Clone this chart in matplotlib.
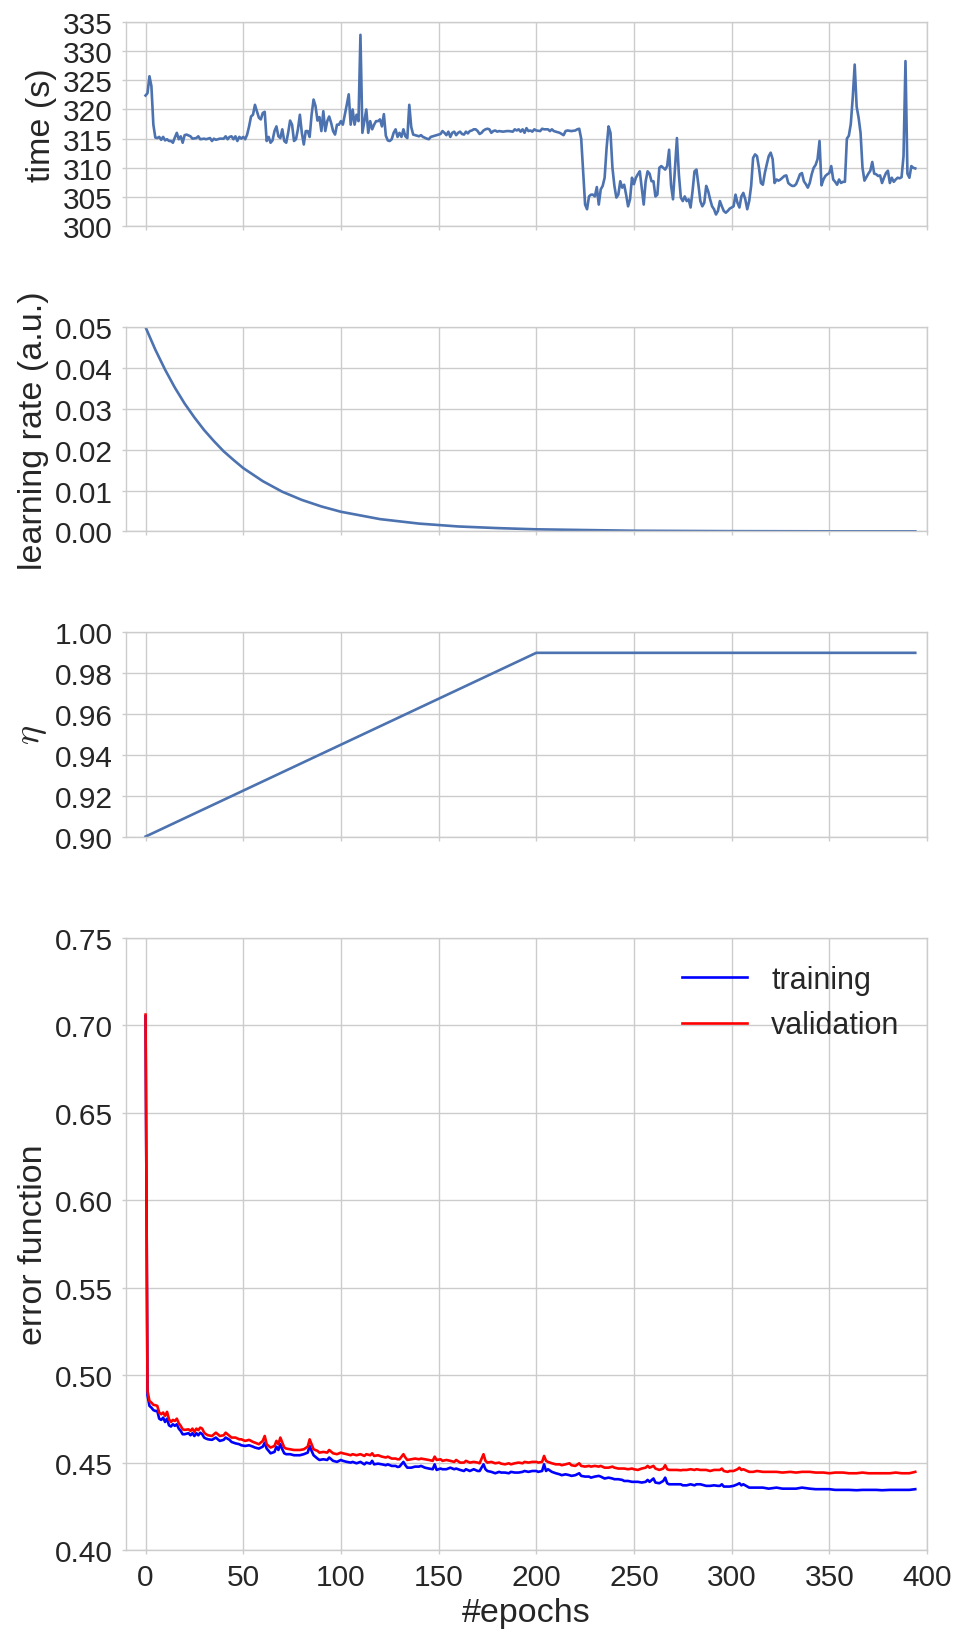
import matplotlib
matplotlib.use("Agg")
import matplotlib.pyplot as plt
from matplotlib.ticker import MultipleLocator, FormatStrFormatter

# ---------------- data ----------------
time_epoch = [
    0, 1, 2, 3, 4, 5, 6, 7, 8, 9,
    10, 11, 12, 13, 14, 15, 16, 17, 18, 19,
    20, 21, 23, 24, 26, 27, 28, 30, 31, 33,
    34, 35, 36, 38, 40, 41, 42, 43, 44, 45,
    46, 47, 48, 49, 50, 51, 52, 53, 54, 55,
    56, 57, 58, 59, 60, 61, 62, 63, 64, 65,
    66, 67, 68, 69, 70, 71, 72, 73, 74, 75,
    76, 77, 78, 79, 80, 81, 82, 83, 84, 85,
    86, 87, 88, 89, 90, 91, 92, 93, 94, 95,
    96, 97, 98, 99, 100, 101, 102, 103, 104, 105,
    106, 107, 108, 109, 110, 111, 112, 113, 114, 115,
    116, 117, 118, 119, 120, 121, 122, 123, 124, 125,
    126, 127, 128, 129, 130, 131, 132, 133, 134, 135,
    136, 137, 138, 140, 141, 142, 144, 145, 146, 147,
    149, 151, 152, 153, 154, 155, 156, 157, 158, 159,
    160, 161, 162, 163, 164, 165, 166, 167, 168, 169,
    170, 171, 172, 173, 174, 175, 176, 177, 178, 179,
    180, 181, 183, 185, 186, 188, 189, 190, 191, 192,
    193, 194, 195, 196, 197, 198, 199, 200, 202, 203,
    204, 206, 207, 208, 209, 210, 212, 213, 214, 215,
    216, 218, 220, 221, 222, 223, 224, 225, 226, 227,
    228, 229, 230, 231, 232, 233, 234, 235, 236, 237,
    238, 239, 240, 241, 242, 243, 244, 245, 246, 247,
    248, 249, 250, 251, 252, 253, 254, 255, 256, 257,
    258, 259, 260, 261, 262, 263, 264, 265, 266, 267,
    268, 269, 270, 271, 272, 273, 274, 275, 276, 277,
    278, 279, 280, 281, 282, 283, 284, 285, 286, 287,
    288, 289, 290, 291, 292, 293, 294, 295, 296, 297,
    298, 299, 300, 301, 302, 303, 304, 305, 306, 307,
    308, 309, 310, 311, 312, 313, 314, 315, 316, 317,
    318, 319, 320, 321, 322, 323, 324, 325, 326, 327,
    328, 329, 330, 331, 332, 333, 334, 335, 336, 337,
    338, 339, 340, 341, 342, 343, 344, 345, 346, 347,
    348, 349, 350, 351, 352, 353, 354, 355, 356, 357,
    358, 359, 360, 361, 362, 363, 364, 365, 366, 367,
    368, 369, 370, 371, 372, 373, 374, 375, 376, 377,
    378, 379, 380, 381, 382, 383, 384, 385, 386, 387,
    388, 389, 390, 391, 392, 393, 394,
]
time_sec = [
    322.4, 322.8, 325.7, 324.0, 317.4, 315.2, 315.1, 315.3, 314.8, 315.3,
    314.7, 314.9, 314.6, 314.6, 314.3, 315.2, 316.0, 314.9, 315.4, 314.3,
    315.6, 315.7, 315.4, 315.0, 315.1, 315.4, 314.9, 315.0, 314.9, 315.1,
    314.6, 315.0, 314.8, 315.0, 315.0, 315.4, 314.9, 315.3, 315.4, 314.9,
    315.4, 314.6, 315.3, 315.0, 315.3, 314.9, 315.7, 317.1, 318.8, 319.1,
    320.8, 319.7, 318.6, 318.3, 319.4, 319.6, 314.6, 315.3, 314.3, 314.7,
    316.3, 317.1, 315.4, 315.1, 316.6, 314.6, 314.3, 316.0, 318.1, 317.4,
    314.6, 314.9, 316.6, 319.1, 316.0, 314.0, 316.3, 316.3, 315.3, 319.1,
    321.7, 320.6, 318.1, 318.7, 316.3, 319.7, 316.3, 318.0, 318.8, 317.7,
    316.3, 315.7, 317.4, 317.4, 318.0, 317.4, 319.1, 320.8, 322.6, 317.4,
    320.0, 317.4, 319.1, 318.0, 332.8, 316.0, 318.0, 320.0, 316.0, 318.0,
    316.6, 317.4, 318.0, 318.0, 318.3, 317.1, 319.2, 315.5, 314.7, 314.6,
    314.9, 316.0, 316.6, 315.3, 316.0, 315.3, 316.6, 315.4, 315.1, 320.8,
    317.0, 315.7, 315.6, 315.4, 315.6, 315.3, 315.0, 314.9, 315.3, 315.4,
    315.6, 315.8, 316.3, 316.0, 315.6, 316.2, 315.3, 316.0, 316.2, 315.6,
    316.0, 316.2, 315.8, 315.7, 316.2, 315.9, 316.3, 316.4, 316.6, 316.6,
    316.3, 315.8, 316.0, 316.4, 316.6, 316.7, 316.6, 316.0, 316.3, 316.4,
    316.2, 316.3, 316.2, 316.3, 316.3, 316.2, 316.6, 316.4, 316.6, 316.2,
    316.6, 316.0, 316.8, 316.3, 316.4, 316.2, 316.6, 316.4, 316.3, 316.7,
    316.6, 316.6, 316.3, 316.6, 316.3, 316.2, 316.0, 315.8, 315.6, 316.3,
    316.4, 316.3, 316.4, 316.6, 316.7, 315.0, 309.4, 303.7, 302.9, 305.1,
    305.4, 305.4, 305.1, 306.7, 303.7, 306.3, 306.9, 308.3, 313.4, 317.1,
    316.0, 310.0, 306.9, 304.9, 305.4, 307.7, 306.6, 307.1, 305.4, 303.4,
    304.6, 308.3, 307.2, 308.3, 308.9, 309.4, 306.6, 303.7, 307.7, 309.4,
    309.0, 307.7, 307.7, 305.1, 305.4, 310.0, 310.3, 310.0, 309.7, 310.3,
    313.1, 307.0, 304.6, 310.0, 315.1, 308.9, 304.9, 304.3, 305.1, 304.3,
    304.6, 303.2, 306.0, 309.4, 309.7, 307.1, 304.3, 303.4, 304.0, 306.9,
    306.0, 304.6, 303.4, 302.9, 302.0, 302.6, 304.3, 303.4, 302.6, 302.3,
    302.6, 303.0, 303.2, 303.4, 305.4, 304.0, 303.2, 305.1, 305.7, 304.6,
    302.9, 304.3, 306.9, 311.7, 312.3, 312.0, 310.0, 307.4, 307.1, 309.1,
    310.6, 312.0, 312.6, 311.5, 307.4, 308.0, 307.8, 308.0, 308.3, 308.6,
    308.7, 307.4, 307.1, 306.9, 306.9, 307.2, 308.0, 308.9, 309.1, 307.7,
    307.2, 306.6, 307.4, 308.9, 310.0, 310.5, 311.5, 314.6, 307.0, 308.0,
    308.6, 308.9, 309.1, 310.3, 308.0, 307.6, 307.1, 308.0, 307.4, 307.6,
    307.6, 315.0, 315.5, 317.5, 322.0, 327.7, 320.5, 318.6, 316.0, 310.0,
    307.8, 308.4, 309.0, 309.5, 311.0, 309.0, 308.9, 308.6, 308.7, 307.4,
    308.3, 309.1, 309.5, 307.4, 308.3, 307.6, 308.0, 308.3, 308.2, 308.4,
    312.0, 328.3, 309.0, 308.3, 310.3, 310.0, 309.9,
]

lr_epoch = [0, 5, 10, 15, 20, 25, 30, 35, 40, 45, 50, 60, 70, 80, 90,
            100, 120, 140, 160, 180, 200, 250, 300, 350, 394]
lr_value = [0.0500, 0.0445, 0.0396, 0.0352, 0.0313, 0.0279, 0.0248, 0.0221,
            0.0196, 0.0175, 0.0155, 0.0123, 0.0097, 0.0077, 0.0061, 0.0048,
            0.0030, 0.0019, 0.0012, 0.0008, 0.0005, 0.00015, 0.00005,
            0.00001, 0.000005]

eta_epoch = [0, 200, 394]
eta_value = [0.90, 0.99, 0.99]

err_epoch = [
    0, 1, 2, 3, 4, 5, 6, 7, 8, 9,
    10, 11, 12, 13, 14, 15, 16, 17, 18, 19,
    20, 22, 23, 24, 25, 26, 27, 28, 29, 30,
    31, 32, 34, 36, 37, 38, 40, 41, 43, 44,
    46, 48, 49, 51, 53, 55, 56, 58, 60, 61,
    62, 63, 64, 66, 67, 68, 69, 70, 71, 72,
    74, 76, 78, 79, 81, 83, 84, 85, 86, 88,
    89, 91, 93, 94, 96, 98, 100, 101, 103, 105,
    106, 108, 110, 112, 113, 115, 116, 117, 119, 121,
    123, 124, 126, 128, 129, 130, 132, 133, 134, 136,
    138, 140, 141, 143, 145, 147, 148, 149, 151, 152,
    154, 156, 158, 159, 161, 163, 164, 166, 168, 170,
    171, 173, 174, 175, 177, 179, 181, 182, 184, 186,
    187, 189, 191, 193, 194, 196, 198, 200, 201, 203,
    204, 205, 206, 208, 210, 212, 213, 215, 217, 218,
    220, 222, 223, 225, 227, 228, 230, 232, 233, 235,
    237, 239, 240, 242, 244, 245, 247, 249, 250, 252,
    254, 256, 257, 258, 260, 261, 263, 265, 266, 267,
    268, 270, 272, 274, 275, 277, 279, 281, 282, 284,
    286, 287, 289, 291, 293, 294, 295, 296, 298, 299,
    301, 303, 304, 305, 306, 308, 309, 311, 313, 316,
    319, 323, 326, 330, 333, 336, 340, 343, 347, 350,
    353, 357, 360, 364, 367, 370, 374, 377, 381, 384,
    387, 391, 394,
]
err_validation = [
    0.706, 0.4910, 0.4852, 0.4843, 0.4830, 0.4828, 0.4824, 0.4786, 0.4776, 0.4786,
    0.4767, 0.4790, 0.4748, 0.4732, 0.4744, 0.4738, 0.4751, 0.4725, 0.4710, 0.4690,
    0.4687, 0.4690, 0.4681, 0.4694, 0.4675, 0.4694, 0.4685, 0.4700, 0.4694, 0.4671,
    0.4662, 0.4656, 0.4652, 0.4671, 0.4662, 0.4652, 0.4656, 0.4671, 0.4652, 0.4643,
    0.4643, 0.4633, 0.4633, 0.4624, 0.4630, 0.4618, 0.4614, 0.4605, 0.4624, 0.4652,
    0.4605, 0.4595, 0.4586, 0.4595, 0.4624, 0.4605, 0.4643, 0.4614, 0.4586, 0.4580,
    0.4576, 0.4572, 0.4572, 0.4572, 0.4576, 0.4591, 0.4633, 0.4605, 0.4576, 0.4567,
    0.4557, 0.4561, 0.4557, 0.4572, 0.4553, 0.4548, 0.4557, 0.4553, 0.4548, 0.4542,
    0.4548, 0.4542, 0.4548, 0.4538, 0.4548, 0.4542, 0.4553, 0.4538, 0.4542, 0.4534,
    0.4529, 0.4534, 0.4523, 0.4523, 0.4519, 0.4519, 0.4548, 0.4529, 0.4515, 0.4519,
    0.4523, 0.4519, 0.4523, 0.4519, 0.4515, 0.4510, 0.4534, 0.4515, 0.4519, 0.4510,
    0.4515, 0.4510, 0.4504, 0.4515, 0.4500, 0.4500, 0.4510, 0.4500, 0.4504, 0.4500,
    0.4496, 0.4548, 0.4510, 0.4500, 0.4504, 0.4496, 0.4500, 0.4494, 0.4490, 0.4496,
    0.4490, 0.4496, 0.4500, 0.4496, 0.4504, 0.4500, 0.4504, 0.4504, 0.4500, 0.4504,
    0.4538, 0.4510, 0.4504, 0.4496, 0.4490, 0.4490, 0.4485, 0.4490, 0.4496, 0.4485,
    0.4481, 0.4496, 0.4481, 0.4477, 0.4481, 0.4477, 0.4481, 0.4477, 0.4481, 0.4471,
    0.4471, 0.4477, 0.4471, 0.4466, 0.4466, 0.4466, 0.4462, 0.4466, 0.4462, 0.4458,
    0.4466, 0.4471, 0.4481, 0.4471, 0.4481, 0.4466, 0.4458, 0.4466, 0.4485, 0.4462,
    0.4458, 0.4458, 0.4458, 0.4456, 0.4458, 0.4458, 0.4462, 0.4458, 0.4462, 0.4458,
    0.4458, 0.4458, 0.4452, 0.4458, 0.4458, 0.4458, 0.4466, 0.4452, 0.4447, 0.4452,
    0.4452, 0.4462, 0.4471, 0.4458, 0.4462, 0.4452, 0.4447, 0.4447, 0.4452, 0.4447,
    0.4447, 0.4447, 0.4443, 0.4447, 0.4443, 0.4447, 0.4447, 0.4443, 0.4443, 0.4439,
    0.4443, 0.4443, 0.4439, 0.4439, 0.4443, 0.4439, 0.4439, 0.4439, 0.4439, 0.4443,
    0.4439, 0.4439, 0.4447,
]
err_training = [
    0.705, 0.4885, 0.4824, 0.4814, 0.4800, 0.4795, 0.4795, 0.4751, 0.4744, 0.4757,
    0.4732, 0.4751, 0.4713, 0.4706, 0.4719, 0.4710, 0.4719, 0.4694, 0.4681, 0.4662,
    0.4662, 0.4668, 0.4656, 0.4668, 0.4652, 0.4668, 0.4656, 0.4671, 0.4662, 0.4643,
    0.4637, 0.4633, 0.4630, 0.4643, 0.4633, 0.4624, 0.4630, 0.4643, 0.4630, 0.4618,
    0.4610, 0.4605, 0.4599, 0.4595, 0.4599, 0.4591, 0.4586, 0.4580, 0.4591, 0.4614,
    0.4580, 0.4567, 0.4553, 0.4561, 0.4591, 0.4572, 0.4605, 0.4576, 0.4553, 0.4548,
    0.4548, 0.4542, 0.4542, 0.4542, 0.4548, 0.4557, 0.4595, 0.4567, 0.4542, 0.4523,
    0.4515, 0.4519, 0.4515, 0.4529, 0.4510, 0.4504, 0.4515, 0.4510, 0.4504, 0.4500,
    0.4504, 0.4496, 0.4504, 0.4490, 0.4500, 0.4494, 0.4510, 0.4490, 0.4494, 0.4490,
    0.4485, 0.4490, 0.4481, 0.4481, 0.4475, 0.4477, 0.4504, 0.4485, 0.4471, 0.4471,
    0.4477, 0.4477, 0.4481, 0.4471, 0.4466, 0.4462, 0.4490, 0.4458, 0.4466, 0.4462,
    0.4462, 0.4471, 0.4462, 0.4466, 0.4458, 0.4452, 0.4462, 0.4452, 0.4462, 0.4452,
    0.4452, 0.4490, 0.4462, 0.4452, 0.4447, 0.4439, 0.4447, 0.4443, 0.4443, 0.4439,
    0.4447, 0.4443, 0.4443, 0.4447, 0.4452, 0.4447, 0.4452, 0.4452, 0.4447, 0.4452,
    0.4490, 0.4452, 0.4462, 0.4447, 0.4439, 0.4433, 0.4428, 0.4433, 0.4428, 0.4424,
    0.4428, 0.4439, 0.4424, 0.4420, 0.4420, 0.4414, 0.4420, 0.4424, 0.4420, 0.4409,
    0.4414, 0.4409, 0.4405, 0.4405, 0.4401, 0.4395, 0.4395, 0.4390, 0.4390, 0.4390,
    0.4386, 0.4390, 0.4401, 0.4390, 0.4409, 0.4386, 0.4382, 0.4395, 0.4414, 0.4382,
    0.4376, 0.4376, 0.4376, 0.4376, 0.4370, 0.4370, 0.4376, 0.4370, 0.4376, 0.4376,
    0.4370, 0.4367, 0.4367, 0.4370, 0.4367, 0.4367, 0.4376, 0.4363, 0.4363, 0.4363,
    0.4367, 0.4376, 0.4382, 0.4370, 0.4376, 0.4363, 0.4357, 0.4357, 0.4357, 0.4357,
    0.4351, 0.4357, 0.4351, 0.4351, 0.4351, 0.4357, 0.4351, 0.4348, 0.4348, 0.4348,
    0.4344, 0.4344, 0.4344, 0.4342, 0.4344, 0.4344, 0.4344, 0.4342, 0.4344, 0.4344,
    0.4344, 0.4344, 0.4348,
]

x_ticks = [0, 50, 100, 150, 200, 250, 300, 350, 400]

# ---------------- style ----------------
TEXT = "#262626"
GRID = "#cccccc"
LINE = "#4C72B0"

plt.rcParams.update({
    "font.family": ["Liberation Sans", "DejaVu Sans"],
    "mathtext.fontset": "cm",
    "text.color": TEXT,
    "axes.labelcolor": TEXT,
    "xtick.color": GRID,
    "ytick.color": GRID,
    "xtick.labelcolor": TEXT,
    "ytick.labelcolor": TEXT,
    "xtick.labelsize": 21.5,
    "ytick.labelsize": 21.5,
    "axes.labelsize": 24.5,
    "axes.edgecolor": GRID,
    "axes.linewidth": 1.0,
    "grid.color": GRID,
    "grid.linewidth": 1.0,
    "xtick.major.size": 3,
    "ytick.major.size": 3,
    "xtick.major.width": 1.0,
    "ytick.major.width": 1.0,
})

fig = plt.figure(figsize=(9.59, 16.31), dpi=100)
gs = fig.add_gridspec(4, 1, height_ratios=[1, 1, 1, 3],
                      left=0.1314, right=0.9666, top=0.9859, bottom=0.0490,
                      hspace=0.33)
ax_time = fig.add_subplot(gs[0])
ax_lr = fig.add_subplot(gs[1], sharex=ax_time)
ax_eta = fig.add_subplot(gs[2], sharex=ax_time)
ax_err = fig.add_subplot(gs[3], sharex=ax_time)

# epoch duration
ax_time.plot(time_epoch, time_sec, color=LINE, lw=1.9)
ax_time.set_ylim(300, 335)
ax_time.yaxis.set_major_locator(MultipleLocator(5))
ax_time.set_ylabel("time (s)")

# learning rate schedule
ax_lr.plot(lr_epoch, lr_value, color=LINE, lw=1.9)
ax_lr.set_ylim(0.0, 0.05)
ax_lr.yaxis.set_major_locator(MultipleLocator(0.01))
ax_lr.yaxis.set_major_formatter(FormatStrFormatter("%.2f"))
ax_lr.set_ylabel("learning rate (a.u.)")

# momentum schedule
ax_eta.plot(eta_epoch, eta_value, color=LINE, lw=1.9)
ax_eta.set_ylim(0.90, 1.00)
ax_eta.yaxis.set_major_locator(MultipleLocator(0.02))
ax_eta.yaxis.set_major_formatter(FormatStrFormatter("%.2f"))
ax_eta.set_ylabel(r"$\eta$", fontsize=26)

# error curves
ax_err.plot(err_epoch, err_training, color="blue", lw=1.9, label="training")
ax_err.plot(err_epoch, err_validation, color="red", lw=1.9, label="validation")
ax_err.set_ylim(0.40, 0.75)
ax_err.yaxis.set_major_locator(MultipleLocator(0.05))
ax_err.yaxis.set_major_formatter(FormatStrFormatter("%.2f"))
ax_err.set_ylabel("error function")
ax_err.set_xlabel("#epochs", labelpad=4)
ax_err.legend(loc="upper right", frameon=False, fontsize=22,
              handlelength=2.1, handletextpad=0.8, labelspacing=0.5)

for ax in (ax_time, ax_lr, ax_eta, ax_err):
    ax.set_facecolor("white")
    ax.grid(True)
    ax.set_axisbelow(True)
    ax.set_xlim(-10, 400)
    ax.set_xticks(x_ticks)
    ax.tick_params(direction="out", pad=6.5)

for ax in (ax_time, ax_lr, ax_eta):
    ax.tick_params(labelbottom=False)

fig.savefig("out.png", dpi=100)
